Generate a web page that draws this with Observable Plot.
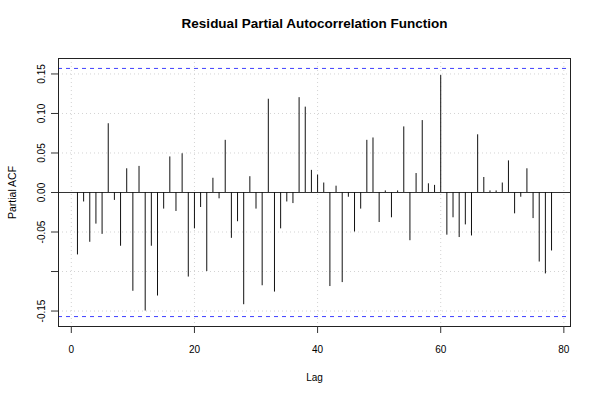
<!DOCTYPE html>
<html>
<head>
<meta charset="utf-8">
<script src="https://cdn.jsdelivr.net/npm/d3@7"></script>
<script src="https://cdn.jsdelivr.net/npm/@observablehq/plot@0.6"></script>
<style>
  html, body { margin: 0; padding: 0; background: white; }
  svg { display: block; }
</style>
</head>
<body>
<div id="chart"></div>
<script>
const title = "Residual Partial Autocorrelation Function";
const xLabel = "Lag";
const yLabel = "Partial ACF";
const pacfValues = [
  -0.079, -0.012, -0.063, -0.040, -0.053, 0.087, -0.010, -0.068, 0.030, -0.125,
   0.033, -0.150, -0.068, -0.131, -0.021, 0.045, -0.024, 0.049, -0.107, -0.046,
  -0.019, -0.100, 0.018, -0.008, 0.066, -0.058, -0.037, -0.142, 0.020, -0.021,
  -0.118, 0.118, -0.126, -0.046, -0.012, -0.014, 0.120, 0.108, 0.028, 0.022,
   0.012, -0.119, 0.008, -0.114, -0.006, -0.050, -0.021, 0.066, 0.069, -0.038,
   0.002, -0.032, 0.002, 0.083, -0.061, 0.024, 0.091, 0.011, 0.009, 0.148,
  -0.054, -0.032, -0.057, -0.041, -0.055, 0.073, 0.019, 0.002, 0.002, 0.012,
   0.040, -0.027, -0.006, 0.030, -0.033, -0.088, -0.103, -0.074
];
const lags = pacfValues.map((_, i) => i + 1);
const confLimit = 0.157;
const xTicks = [0, 20, 40, 60, 80];
const yTicks = [-0.15, -0.10, -0.05, 0.00, 0.05, 0.10, 0.15];
const yTickLabels = ["-0.15", "", "-0.05", "0.00", "0.05", "0.10", "0.15"];

const data = lags.map((lag, i) => ({lag, value: pacfValues[i]}));

// R-style 4% axis extension
const xr = [d3.min(lags), d3.max(lags)];
const xPad = (xr[1] - xr[0]) * 0.04;
const yAll = pacfValues.concat([confLimit, -confLimit]);
const yr = [d3.min(yAll), d3.max(yAll)];
const yPad = (yr[1] - yr[0]) * 0.04;

const font = "'Liberation Sans', Arial, Helvetica, sans-serif";

const chart = Plot.plot({
  width: 600,
  height: 400,
  marginLeft: 58,
  marginRight: 30,
  marginTop: 58,
  marginBottom: 74,
  style: {fontFamily: font, fontSize: "10px", background: "white", color: "black", overflow: "visible"},
  x: {domain: [xr[0] - xPad, xr[1] + xPad]},
  y: {domain: [yr[0] - yPad, yr[1] + yPad]},
  marks: [
    Plot.gridX(xTicks, {stroke: "#d3d3d3", strokeOpacity: 1, strokeDasharray: "1,3"}),
    Plot.gridY(yTicks, {stroke: "#d3d3d3", strokeOpacity: 1, strokeDasharray: "1,3"}),
    Plot.ruleY([0], {stroke: "#333", strokeWidth: 1}),
    Plot.ruleY([confLimit, -confLimit], {stroke: "#0000ff", strokeDasharray: "4,4", strokeOpacity: 0.75}),
    Plot.ruleX(data, {x: "lag", y1: 0, y2: "value", stroke: "#111", strokeWidth: 1}),
    Plot.frame({stroke: "#222"}),
    Plot.axisX(xTicks, {tickSize: 7, tickPadding: 16, lineAnchor: "middle", tickFormat: d => String(d), label: null, stroke: "#333"}),
    Plot.axisY(yTicks, {tickSize: 7, tickPadding: 7, tickRotate: -90,
      tickFormat: d => yTickLabels[yTicks.indexOf(d)], label: null, stroke: "#333"}),
    Plot.text([title], {frameAnchor: "top", dy: -35, lineAnchor: "middle", fontWeight: "bold", fontSize: 13.5, text: d => d}),
    Plot.text([xLabel], {frameAnchor: "bottom", dy: 51, lineAnchor: "middle", fontSize: 10, text: d => d}),
    Plot.text([yLabel], {frameAnchor: "left", dx: -46, rotate: -90, lineAnchor: "middle", textAnchor: "middle", fontSize: 10.5, text: d => d})
  ]
});
document.getElementById("chart").appendChild(chart);
</script>
</body>
</html>
